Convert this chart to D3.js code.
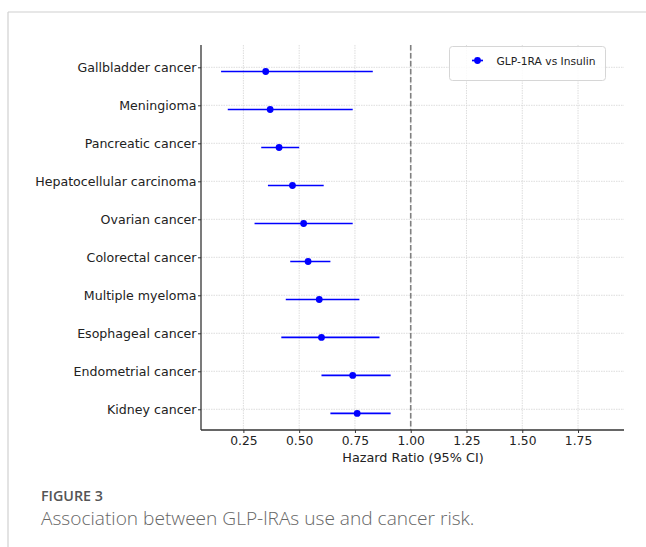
<!DOCTYPE html>
<html>
<head>
<meta charset="utf-8">
<script src="https://cdn.jsdelivr.net/npm/d3@7"></script>
<style>
  body { margin: 0; background: #fff; }
  svg { display: block; }
</style>
</head>
<body>
<svg id="svg" width="646" height="547"></svg>
<script>
// data
let cancers = ["Gallbladder cancer", "Meningioma", "Pancreatic cancer", "Hepatocellular carcinoma",
  "Ovarian cancer", "Colorectal cancer", "Multiple myeloma", "Esophageal cancer",
  "Endometrial cancer", "Kidney cancer"];
let hr = [0.35, 0.37, 0.41, 0.47, 0.52, 0.54, 0.59, 0.60, 0.74, 0.76];
let lower = [0.15, 0.18, 0.33, 0.36, 0.30, 0.46, 0.44, 0.42, 0.60, 0.64];
let upper = [0.83, 0.74, 0.50, 0.61, 0.74, 0.64, 0.77, 0.86, 0.91, 0.91];
let xTicks = [0.25, 0.5, 0.75, 1.0, 1.25, 1.5, 1.75];

// colors
let blue = "#0000ff";
let ink = "#222";
let grid = "#d4d4d4";

let svg = d3.select("#svg");

// card frame
svg.append("line").attr("x1", 8).attr("x2", 646).attr("y1", 12).attr("y2", 12)
  .attr("stroke", "#d0d0d0").attr("stroke-width", 1.2);
svg.append("line").attr("x1", 8).attr("x2", 8).attr("y1", 12).attr("y2", 547)
  .attr("stroke", "#d0d0d0").attr("stroke-width", 1.2);

let plotLeft = 201, plotRight = 624, plotTop = 45, plotBottom = 430;

let x = d3.scaleLinear().domain([0.06, 1.956]).range([plotLeft, plotRight]);
let y = d3.scaleLinear().domain([-0.587, 9.545]).range([plotTop, plotBottom]);
let offset = 0.11; // points sit a little below their tick

let font = "DejaVu Sans, sans-serif";

// grid
svg.append("g").selectAll("line").data(xTicks).join("line")
  .attr("x1", d => x(d)).attr("x2", d => x(d)).attr("y1", plotTop).attr("y2", plotBottom)
  .attr("stroke", grid).attr("stroke-width", 0.8).attr("stroke-dasharray", "1.5,1");
svg.append("g").selectAll("line").data(cancers).join("line")
  .attr("x1", plotLeft).attr("x2", plotRight).attr("y1", (d, i) => y(i)).attr("y2", (d, i) => y(i))
  .attr("stroke", grid).attr("stroke-width", 0.8).attr("stroke-dasharray", "1.5,1");

// reference line at HR = 1
svg.append("line").attr("x1", x(1)).attr("x2", x(1)).attr("y1", plotTop).attr("y2", plotBottom)
  .attr("stroke", "#808080").attr("stroke-width", 1.6).attr("stroke-dasharray", "5.5,2.5");

// axes
let xAxis = svg.append("g").attr("transform", `translate(0,${plotBottom})`)
  .call(d3.axisBottom(x).tickValues(xTicks).tickFormat(d3.format(".2f")).tickSize(3).tickPadding(3));
let yAxis = svg.append("g").attr("transform", `translate(${plotLeft},0)`)
  .call(d3.axisLeft(y).tickValues(d3.range(cancers.length)).tickFormat(i => cancers[i]).tickSize(3).tickPadding(1.5));
[xAxis, yAxis].forEach(a => {
  a.select(".domain").attr("stroke", "#333").attr("stroke-width", 1.3);
  a.selectAll(".tick line").attr("stroke", "#333").attr("stroke-width", 1);
  a.selectAll("text").attr("fill", ink).attr("font-family", font);
});
xAxis.selectAll("text").attr("font-size", 12.3);
yAxis.selectAll("text").attr("font-size", 12.6);
xAxis.select(".domain").attr("d", `M${plotLeft},0H${plotRight}`);
yAxis.select(".domain").attr("d", `M0,${plotTop}V${plotBottom}`);

svg.append("text").attr("x", 413).attr("y", 461.5)
  .attr("text-anchor", "middle").attr("font-family", font).attr("font-size", 12.8).attr("fill", ink)
  .text("Hazard Ratio (95% CI)");

// error bars and points
let g = svg.append("g");
g.selectAll("line").data(cancers).join("line")
  .attr("x1", (d, i) => x(lower[i])).attr("x2", (d, i) => x(upper[i]))
  .attr("y1", (d, i) => y(i + offset)).attr("y2", (d, i) => y(i + offset))
  .attr("stroke", blue).attr("stroke-width", 1.7);
g.selectAll("circle").data(cancers).join("circle")
  .attr("cx", (d, i) => x(hr[i])).attr("cy", (d, i) => y(i + offset)).attr("r", 3.4)
  .attr("fill", blue);

// legend
let leg = svg.append("g");
leg.append("rect").attr("x", 449.5).attr("y", 46.5).attr("width", 156).attr("height", 34).attr("rx", 3)
  .attr("fill", "#fff").attr("fill-opacity", 0.85).attr("stroke", "#d6d6d6");
leg.append("line").attr("x1", 472).attr("x2", 483).attr("y1", 60.5).attr("y2", 60.5)
  .attr("stroke", blue).attr("stroke-width", 1.7);
leg.append("circle").attr("cx", 477.5).attr("cy", 60.5).attr("r", 3.4).attr("fill", blue);
leg.append("text").attr("x", 496.5).attr("y", 64.5).attr("font-family", font).attr("font-size", 10.7)
  .attr("fill", ink).text("GLP-1RA vs Insulin");

// caption
svg.append("text").attr("x", 41).attr("y", 501).attr("font-family", "Open Sans, sans-serif")
  .attr("font-size", 14.3).attr("font-weight", 600).attr("fill", "#555").text("FIGURE 3");
svg.append("text").attr("x", 41).attr("y", 525).attr("font-family", "Open Sans, sans-serif")
  .attr("font-size", 19.1).attr("font-weight", 300).attr("fill", "#666").text("Association between GLP-lRAs use and cancer risk.");
</script>
</body>
</html>
